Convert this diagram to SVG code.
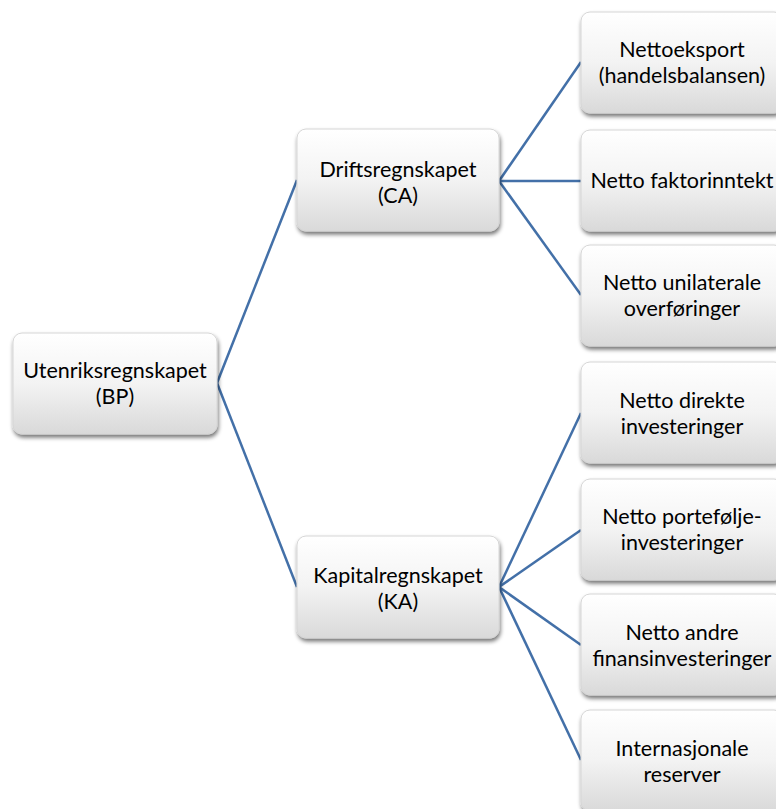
<svg xmlns="http://www.w3.org/2000/svg" width="776" height="809" viewBox="0 0 776 809">
<style>
  .box{fill:url(#g);stroke:#d6d6d6;stroke-width:1;filter:url(#sh)}
  .t{font-family:Lato,"Liberation Sans",sans-serif;font-size:21.5px;fill:#000;text-anchor:middle}
  .c{stroke:#4370a8;stroke-width:2.5;fill:none}
</style>
<defs>
  <linearGradient id="g" x1="0" y1="0" x2="0" y2="1">
    <stop offset="0" stop-color="#ffffff"/>
    <stop offset="0.5" stop-color="#f3f3f3"/>
    <stop offset="1" stop-color="#d9d9d9"/>
  </linearGradient>
  <filter id="sh" x="-10%" y="-10%" width="130%" height="130%">
    <feGaussianBlur in="SourceAlpha" stdDeviation="2"/>
    <feOffset dx="1" dy="3" result="b"/>
    <feComponentTransfer><feFuncA type="linear" slope="0.55"/></feComponentTransfer>
    <feMerge><feMergeNode/><feMergeNode in="SourceGraphic"/></feMerge>
  </filter>
</defs>
<rect width="776" height="809" fill="#fff"/>
<g id="connectors">
  <line class="c" x1="217" y1="383" x2="297" y2="180"/>
  <line class="c" x1="217" y1="383" x2="297" y2="587"/>
  <line class="c" x1="499" y1="181" x2="581" y2="62"/>
  <line class="c" x1="499" y1="181" x2="581" y2="181"/>
  <line class="c" x1="499" y1="181" x2="581" y2="295"/>
  <line class="c" x1="499" y1="587" x2="581" y2="413"/>
  <line class="c" x1="499" y1="587" x2="581" y2="530"/>
  <line class="c" x1="499" y1="587" x2="581" y2="645"/>
  <line class="c" x1="499" y1="587" x2="581" y2="760"/>
</g>
<g id="bp">
  <rect class="box" x="13" y="333" width="204" height="101" rx="9"/>
  <text class="t" x="115" y="378">Utenriksregnskapet</text>
  <text class="t" x="115" y="404">(BP)</text>
</g>
<g id="ca">
  <rect class="box" x="297" y="129" width="202" height="102" rx="9"/>
  <text class="t" x="398" y="177">Driftsregnskapet</text>
  <text class="t" x="398" y="203">(CA)</text>
</g>
<g id="ka">
  <rect class="box" x="297" y="536" width="202" height="102" rx="9"/>
  <text class="t" x="398" y="583">Kapitalregnskapet</text>
  <text class="t" x="398" y="609">(KA)</text>
</g>
<g id="r1">
  <rect class="box" x="581" y="12" width="202" height="101" rx="9"/>
  <text class="t" x="682" y="57">Nettoeksport</text>
  <text class="t" x="682" y="83">(handelsbalansen)</text>
</g>
<g id="r2">
  <rect class="box" x="581" y="130" width="202" height="101" rx="9"/>
  <text class="t" x="682" y="188">Netto faktorinntekt</text>
</g>
<g id="r3">
  <rect class="box" x="581" y="245" width="202" height="101" rx="9"/>
  <text class="t" x="682" y="290">Netto unilaterale</text>
  <text class="t" x="682" y="316">overføringer</text>
</g>
<g id="r4">
  <rect class="box" x="581" y="362" width="202" height="101" rx="9"/>
  <text class="t" x="682" y="408">Netto direkte</text>
  <text class="t" x="682" y="434">investeringer</text>
</g>
<g id="r5">
  <rect class="box" x="581" y="479" width="202" height="101" rx="9"/>
  <text class="t" x="682" y="524">Netto portefølje-</text>
  <text class="t" x="682" y="550">investeringer</text>
</g>
<g id="r6">
  <rect class="box" x="581" y="594" width="202" height="101" rx="9"/>
  <text class="t" x="682" y="640">Netto andre</text>
  <text class="t" x="682" y="666">finansinvesteringer</text>
</g>
<g id="r7">
  <rect class="box" x="581" y="710" width="202" height="101" rx="9"/>
  <text class="t" x="682" y="756">Internasjonale</text>
  <text class="t" x="682" y="782">reserver</text>
</g>
</svg>
